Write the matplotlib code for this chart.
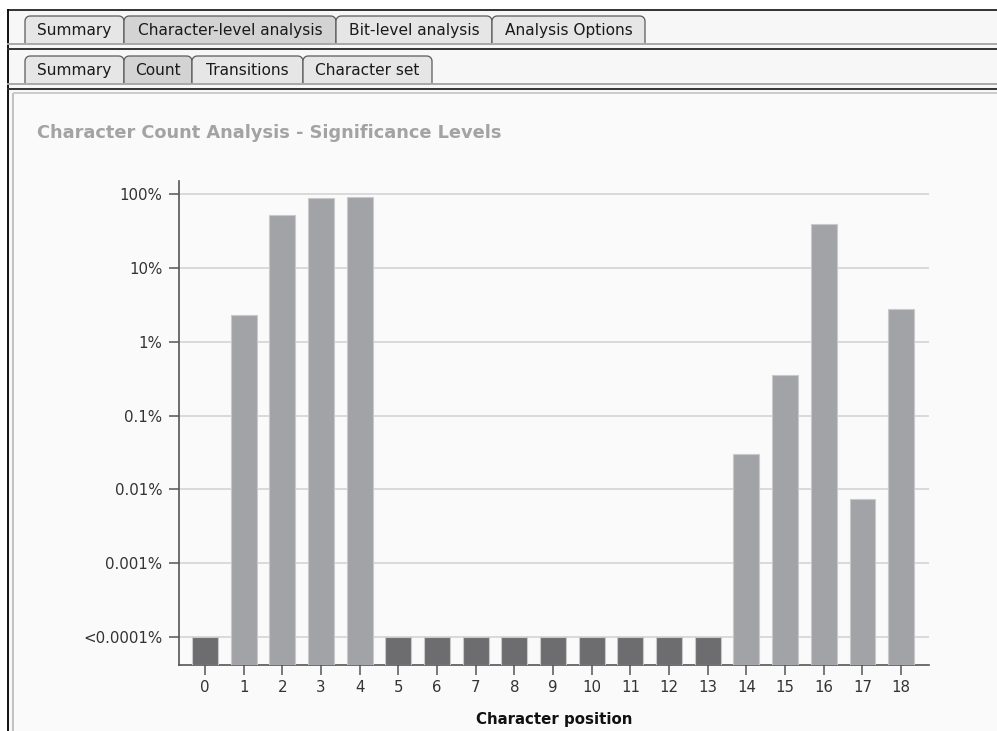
import matplotlib
matplotlib.use("Agg")
import numpy as np
import matplotlib.pyplot as plt
from matplotlib.patches import Polygon, Rectangle
from matplotlib.lines import Line2D
from matplotlib.ticker import FixedLocator, NullLocator

# ---------------- data ----------------
positions = list(range(19))
significance_pct = [0.0001, 2.3, 52, 88, 91, 0.0001, 0.0001, 0.0001, 0.0001, 0.0001,
                    0.0001, 0.0001, 0.0001, 0.0001, 0.030, 0.35, 39, 0.0074, 2.76]
threshold_pct = 0.0001
ytick_values = [0.0001, 0.001, 0.01, 0.1, 1, 10, 100]
ytick_labels = ["<0.0001%", "0.001%", "0.01%", "0.1%", "1%", "10%", "100%"]
title = "Character Count Analysis - Significance Levels"
xlabel = "Character position"
top_tabs = ["Summary", "Character-level analysis", "Bit-level analysis", "Analysis Options"]
sub_tabs = ["Summary", "Count", "Transitions", "Character set"]

W, H = 997, 731
plt.rcParams['font.family'] = ['DejaVu Sans']
fig = plt.figure(figsize=(W / 100, H / 100), dpi=100)
fig.patch.set_facecolor("#ffffff")

def fx(x):
    return x / W

def fy(y):
    return 1 - y / H

def hline(y, x0, x1, color, lw=1.0):
    fig.add_artist(Line2D([fx(x0), fx(x1)], [fy(y), fy(y)], color=color, lw=lw,
                          transform=fig.transFigure, zorder=4))

def vline(x, y0, y1, color, lw=1.0):
    fig.add_artist(Line2D([fx(x), fx(x)], [fy(y0), fy(y1)], color=color, lw=lw,
                          transform=fig.transFigure, zorder=4))

# window background
fig.add_artist(Rectangle((fx(8), fy(H)), fx(W) - fx(8), fy(10) - fy(H),
                         transform=fig.transFigure, facecolor="#f7f7f7",
                         edgecolor="none", zorder=0))
# chart panel background
fig.add_artist(Rectangle((fx(14), fy(H)), fx(W) - fx(14), fy(94) - fy(H),
                         transform=fig.transFigure, facecolor="#fafafa",
                         edgecolor="none", zorder=0))
hline(10, 8, W, "#111111", 1.2)
vline(8, 10, H, "#111111", 1.4)
vline(13, 94, H, "#b8b8b8", 1.2)

def tab_outline(x0, x1, ytop, ybot, r=5):
    pts = [(x0, ybot), (x0, ytop + r)]
    for a in np.linspace(np.pi, np.pi / 2, 6)[1:]:
        pts.append((x0 + r + r * np.cos(a), ytop + r - r * np.sin(a)))
    pts.append((x1 - r, ytop))
    for a in np.linspace(np.pi / 2, 0, 6)[1:]:
        pts.append((x1 - r + r * np.cos(a), ytop + r - r * np.sin(a)))
    pts.append((x1, ybot))
    return [(fx(px), fy(py)) for px, py in pts]

def draw_tabs(labels, edges, ytop, ybot, selected):
    for i, lab in enumerate(labels):
        x0, x1 = edges[i], edges[i + 1]
        fc = "#d3d3d3" if i == selected else "#e6e6e6"
        p = Polygon(tab_outline(x0, x1, ytop, ybot), closed=False,
                    transform=fig.transFigure, facecolor=fc,
                    edgecolor="#5a5a5a", lw=0.9, zorder=2)
        fig.add_artist(p)
        fig.text(fx((x0 + x1) / 2), fy((ytop + ybot) / 2 + 1), lab, ha="center", va="center",
                 fontsize=11.1, color="#1a1a1a", zorder=3)

draw_tabs(top_tabs, [25, 124, 336, 492, 645], 16, 43, 1)
hline(44, 8, W, "#a8a8a8", 1.4)
hline(49, 8, W, "#333333", 1.4)
draw_tabs(sub_tabs, [25, 124, 192, 303, 432], 56, 83, 1)
hline(84, 8, W, "#a8a8a8", 1.4)
hline(89, 8, W, "#333333", 1.4)
hline(93, 14, W, "#c4c4c4", 1.2)

fig.text(fx(37), fy(133), title, ha="left", va="center", fontsize=12.8,
         fontweight="bold", color="#a3a3a3")

# ---------------- chart ----------------
ax_left, ax_right, ax_top, ax_bot = 179, 929, 181, 665
ax = fig.add_axes([fx(ax_left), fy(ax_bot), fx(ax_right - ax_left), fy(ax_top) - fy(ax_bot)])
ax.set_facecolor("#fafafa")
ax.set_yscale("log")
ylo, yhi = 4.18e-5, 150
ax.set_ylim(ylo, yhi)
ax.set_xlim(-0.67, 18.72)

colors = ["#6d6d6f" if v <= threshold_pct else "#a2a3a7" for v in significance_pct]
heights = [v - ylo for v in significance_pct]
ax.bar(positions, heights, bottom=ylo, width=0.67, color=colors,
       edgecolor="#c9c9cc", linewidth=0.8, zorder=3)

ax.yaxis.set_major_locator(FixedLocator(ytick_values))
ax.yaxis.set_minor_locator(NullLocator())
ax.set_yticklabels(ytick_labels)
ax.set_xticks(positions)
ax.set_xticklabels([str(p) for p in positions])
ax.grid(axis="y", color="#d4d4d4", lw=1.2, zorder=1)
ax.set_axisbelow(True)

for s in ["top", "right"]:
    ax.spines[s].set_visible(False)
for s in ["left", "bottom"]:
    ax.spines[s].set_color("#555555")
    ax.spines[s].set_linewidth(1.2)
ax.tick_params(axis="y", length=7, width=1.1, color="#555555", pad=5,
               labelsize=10.8, labelcolor="#333333")
ax.tick_params(axis="x", length=7, width=1.1, color="#555555", pad=4,
               labelsize=10.8, labelcolor="#333333")
ax.set_xlabel(xlabel, fontsize=10.8, fontweight="bold", color="#111111")
ax.xaxis.set_label_coords(0.5, -0.097)

fig.savefig("out.png", dpi=100, facecolor=fig.get_facecolor())
